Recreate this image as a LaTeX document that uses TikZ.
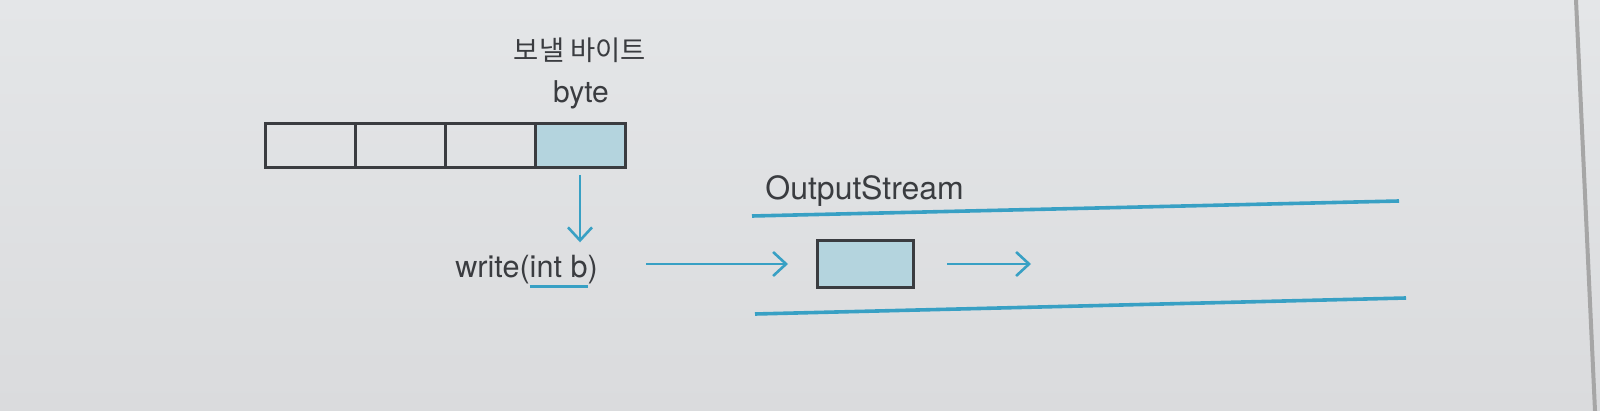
\documentclass[tikz,border=0pt]{standalone}
\usepackage{fontspec}
\setmainfont{TeX Gyre Heros}
\newfontfamily\krfont{Noto Sans CJK KR}
\usetikzlibrary{arrows.meta,positioning}
\definecolor{sky}{RGB}{56,160,196}
\definecolor{skyfill}{RGB}{180,212,222}
\definecolor{ink}{RGB}{58,60,64}
\definecolor{paper}{RGB}{228,230,232}
\definecolor{paperlow}{RGB}{218,219,221}
\newcommand\skyline[1]{\setbox0\hbox{#1}\rlap{\color{sky}\rule[-5.2pt]{\wd0}{1.5pt}}\box0}

\begin{document}
\begin{tikzpicture}[x=0.5pt,y=-0.5pt,node distance=0pt,cell/.style={draw=ink,line width=1.5pt,minimum width=45pt,minimum height=22pt,inner sep=0pt,outer sep=0pt},lbl/.style={text=ink,inner sep=0pt},flow/.style={-{Straight Barb[length=6.5pt,width=12pt]},sky,line width=1.3pt},stream/.style={sky,line width=1.8pt}]
\fill[top color=paper,bottom color=paperlow] (0,0) rectangle (1600,411);
\useasboundingbox (0,0) rectangle (1600,411);
\draw[black!35,line width=2pt] (1576,0)--(1595,411);
\node[cell] (c1) at (310,146) {};
\node[cell,right=of c1] (c2) {};
\node[cell,right=of c2] (c3) {};
\node[cell,right=of c3,fill=skyfill] (c4) {};
\node[lbl,anchor=base,font=\fontsize{15}{18}\selectfont] (byte) at (581,103) {byte};
\node[lbl,anchor=base,font=\krfont\fontsize{13.7}{16}\selectfont] (send) at (580,61) {보낼 바이트};
\node[lbl,anchor=base west,font=\fontsize{15.3}{18}\selectfont] (wr) at (455,278) {write(\skyline{int b})};
\node[cell,fill=skyfill,minimum width=48pt,minimum height=23.5pt] (buf) at (865,264) {};
\coordinate (out) at (1031,262);
\node[lbl,anchor=base west,font=\fontsize{16}{19}\selectfont] (os) at (765,200) {OutputStream};
\draw[flow,shorten <=3.5pt,shorten >=6.5pt] (c4.south)--(c4.south |- wr.north);
\draw[flow,shorten <=24pt,shorten >=14.5pt] (wr.east |- buf.west)--(buf.west);
\draw[flow,shorten <=17pt] (buf.east)--(buf.east -| out);
\draw[stream] (752,216)--(1399,201);
\draw[stream] (755,314)--(1406,298);
\end{tikzpicture}
\end{document}
